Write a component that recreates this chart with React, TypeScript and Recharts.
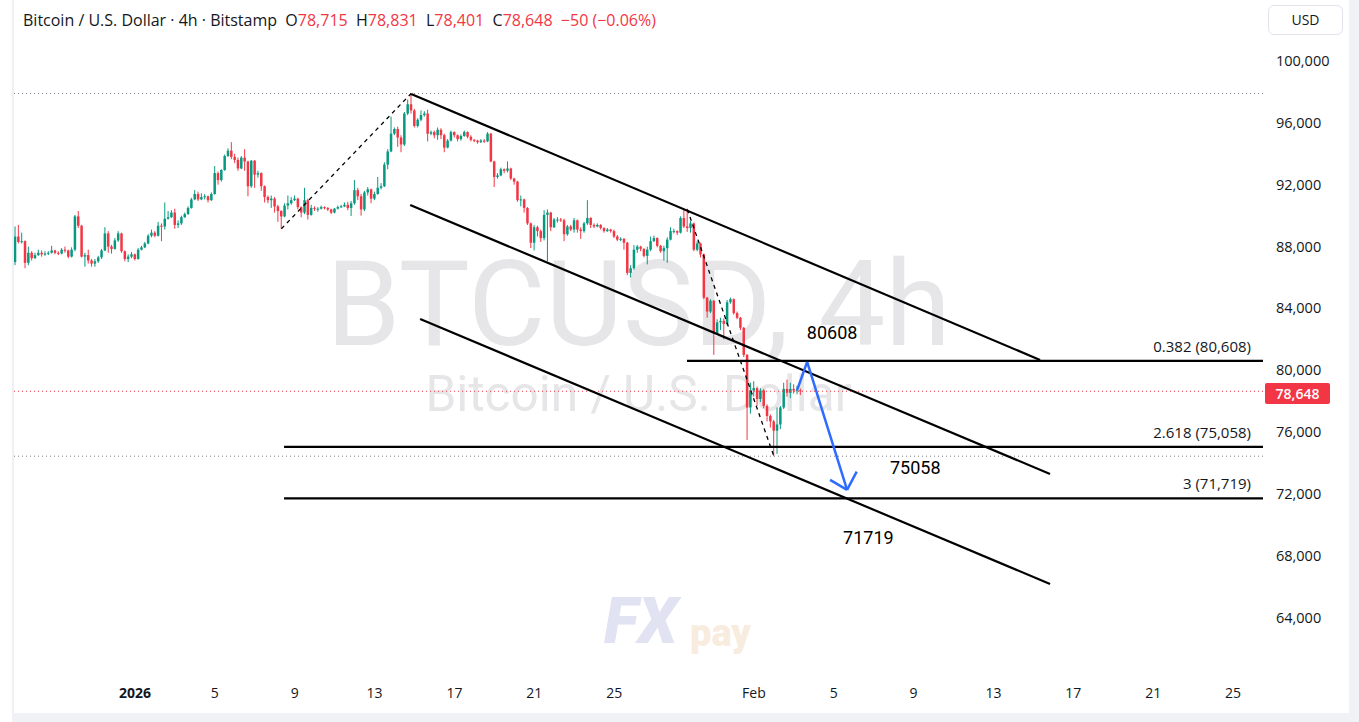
import { ComposedChart, Bar, XAxis, YAxis, ReferenceLine, ReferenceDot } from 'recharts'

// 4h candles starting Dec 26 00:00, prices in thousands of USD
const FIRST_OPEN = 87.0

const closes = [
  88.65, 88.3, 88.35, 86.95, 87.6, 87.25, 87.45, 87.6, 87.5, 87.55,
  87.6, 87.75, 87.6, 87.55, 87.8, 87.75, 87.35, 87.8, 89.95, 89.35,
  87.35, 87.45, 87.1, 86.9, 87.05, 87.3, 87.75, 88.85, 88.0, 87.85,
  88.4, 88.85, 87.7, 87.2, 87.35, 87.5, 87.2, 87.8, 87.95, 88.2,
  88.7, 88.9, 88.7, 89.35, 89.3, 89.8, 89.9, 90.2, 89.4, 89.5,
  89.9, 90.1, 90.5, 91.05, 91.4, 91.05, 91.2, 91.25, 91.0, 91.4,
  92.75, 92.3, 92.95, 93.85, 94.2, 93.8, 93.6, 93.05, 93.75, 93.5,
  91.9, 93.55, 92.65, 92.75, 91.9, 91.2, 91.0, 91.1, 90.6, 90.3,
  89.95, 90.65, 90.8, 91.0, 91.1, 90.55, 90.2, 91.0, 90.05, 90.5,
  90.45, 90.45, 90.55, 90.5, 90.4, 90.2, 90.45, 90.55, 90.6, 90.7,
  90.5, 90.8, 91.65, 91.25, 90.4, 91.5, 91.7, 91.1, 91.4, 91.8,
  91.9, 93.3, 94.15, 95.3, 95.6, 95.05, 94.6, 96.6, 97.2, 96.8,
  95.8, 96.2, 96.5, 96.6, 95.3, 95.4, 95.2, 95.55, 95.2, 94.4,
  94.85, 95.4, 95.2, 94.95, 95.15, 95.4, 95.1, 94.9, 94.85, 94.75,
  94.85, 94.8, 95.3, 93.5, 92.5, 92.6, 93.0, 92.9, 93.05, 92.4,
  92.2, 91.0, 91.05, 90.5, 89.5, 88.25, 89.25, 89.0, 88.55, 90.05,
  90.2, 89.25, 89.75, 89.75, 89.7, 88.8, 89.3, 89.1, 89.7, 89.1,
  89.0, 89.5, 89.85, 89.4, 89.3, 89.4, 89.2, 89.0, 89.1, 89.0,
  88.65, 88.45, 88.5, 88.25, 86.3, 86.6, 87.8, 88.0, 87.85, 87.4,
  87.8, 88.35, 88.55, 88.05, 87.7, 87.9, 88.45, 89.0, 89.0, 88.9,
  89.85, 89.3, 89.2, 89.5, 87.8, 88.2, 87.5, 84.7, 83.8, 84.5,
  82.4, 83.1, 83.2, 83.0, 84.4, 84.6, 83.7, 83.4, 82.75, 81.0,
  77.6, 78.7, 78.85, 78.15, 78.7, 77.7, 77.05, 76.7, 76.1, 76.5,
  77.6, 78.8, 78.55, 78.8, 78.7, 78.715, 78.648,
]

const highs = [
  89.3, 89.4, 88.9, 88.4, 88.0, 87.7, 87.6, 87.8, 87.75, 87.7,
  87.7, 88.05, 87.8, 87.7, 87.9, 88.0, 87.8, 87.95, 90.05, 90.3,
  89.4, 87.6, 87.8, 87.2, 87.2, 87.4, 87.85, 89.25, 89.0, 88.1,
  88.55, 89.0, 88.9, 87.75, 87.5, 87.65, 87.55, 87.9, 88.05, 88.3,
  88.8, 89.1, 89.0, 89.6, 89.5, 90.85, 90.3, 90.35, 90.45, 89.7,
  90.0, 90.2, 90.6, 91.15, 91.65, 91.55, 91.45, 91.4, 91.3, 91.5,
  93.2, 92.85, 93.0, 93.95, 94.35, 94.75, 94.0, 93.75, 93.85, 94.3,
  93.55, 93.6, 93.6, 92.9, 92.8, 91.95, 91.3, 91.3, 91.2, 90.7,
  90.35, 90.8, 91.3, 91.2, 91.3, 91.15, 90.6, 91.8, 91.1, 90.7,
  90.6, 90.55, 90.65, 90.6, 90.55, 90.45, 90.5, 90.65, 90.7, 90.85,
  90.9, 90.95, 92.3, 91.8, 91.4, 91.6, 91.85, 91.75, 91.55, 92.5,
  92.1, 93.45, 94.3, 96.4, 95.7, 95.75, 95.2, 96.7, 97.5, 97.9,
  96.9, 96.3, 96.8, 96.75, 96.85, 95.5, 95.5, 95.7, 95.65, 95.3,
  94.95, 95.5, 95.45, 95.25, 95.25, 95.5, 95.45, 95.2, 94.95, 94.9,
  94.95, 94.95, 95.4, 95.35, 93.55, 92.75, 93.1, 93.05, 93.5, 93.1,
  92.45, 92.25, 91.3, 91.1, 90.55, 89.55, 89.4, 89.35, 89.1, 90.35,
  90.4, 90.25, 89.85, 89.9, 89.85, 89.8, 89.4, 89.4, 89.85, 89.75,
  89.25, 89.6, 91.0, 89.9, 89.5, 89.5, 89.45, 89.25, 89.2, 89.15,
  89.1, 88.75, 88.6, 88.55, 88.3, 86.8, 88.1, 88.1, 88.05, 87.9,
  88.0, 88.65, 88.7, 88.6, 88.1, 88.05, 88.6, 89.25, 89.15, 89.05,
  89.95, 90.4, 90.45, 89.65, 89.55, 88.35, 88.25, 87.55, 84.75, 84.6,
  84.55, 83.3, 83.4, 83.35, 84.55, 84.7, 84.65, 83.8, 83.45, 82.8,
  81.05, 79.2, 79.3, 78.95, 78.85, 78.8, 77.8, 77.15, 76.8, 77.6,
  77.7, 79.2, 79.4, 79.2, 79.1, 79.0, 78.831,
]

const lows = [
  86.8, 88.2, 88.2, 86.6, 86.8, 87.1, 87.2, 87.4, 87.35, 87.4,
  87.45, 87.55, 87.5, 87.45, 87.5, 87.6, 87.25, 87.3, 87.7, 89.2,
  87.3, 86.7, 86.9, 86.7, 86.7, 86.95, 87.2, 87.7, 87.6, 87.55,
  87.8, 88.3, 87.6, 87.05, 87.0, 87.25, 87.1, 87.15, 87.75, 87.9,
  88.15, 88.6, 88.6, 88.65, 88.35, 89.1, 89.75, 89.85, 89.15, 89.2,
  89.4, 89.85, 90.05, 90.45, 91.0, 90.95, 91.0, 91.05, 90.85, 90.95,
  91.35, 92.0, 92.2, 92.9, 93.8, 93.65, 93.4, 92.9, 93.0, 92.9,
  91.25, 91.8, 91.8, 92.45, 91.6, 90.85, 90.8, 90.5, 90.2, 89.6,
  89.15, 89.9, 90.4, 90.7, 90.95, 90.4, 89.9, 90.1, 89.75, 90.0,
  90.3, 90.25, 90.4, 90.4, 90.3, 90.1, 90.15, 90.4, 90.5, 90.55,
  90.35, 89.98, 90.7, 91.0, 90.0, 90.3, 91.3, 90.8, 91.0, 91.35,
  91.7, 91.85, 93.0, 94.1, 95.2, 94.45, 94.1, 94.5, 96.5, 96.6,
  95.7, 95.7, 96.1, 96.4, 94.8, 95.2, 95.0, 94.9, 94.95, 94.1,
  94.35, 94.8, 95.05, 94.8, 94.85, 95.1, 95.0, 94.8, 94.75, 94.65,
  94.7, 94.7, 94.75, 93.45, 91.85, 92.4, 92.55, 92.75, 92.8, 92.3,
  92.0, 90.9, 90.6, 90.2, 89.4, 87.9, 87.75, 88.65, 88.3, 88.4,
  87.05, 89.0, 89.2, 89.55, 89.6, 88.35, 88.7, 89.0, 88.9, 88.9,
  88.5, 88.9, 89.4, 89.2, 89.2, 89.25, 89.1, 88.9, 88.95, 88.9,
  88.55, 88.35, 88.35, 87.8, 86.15, 86.0, 86.5, 87.6, 87.7, 87.3,
  86.85, 87.7, 88.3, 87.95, 87.6, 87.1, 86.95, 88.4, 88.85, 88.75,
  88.85, 89.2, 88.95, 88.9, 87.7, 87.7, 87.3, 84.6, 83.4, 83.7,
  81.0, 82.3, 82.6, 82.0, 82.9, 84.3, 83.6, 83.3, 82.6, 80.85,
  75.5, 77.2, 78.3, 77.7, 77.95, 77.55, 76.7, 76.3, 74.45, 74.6,
  76.2, 77.5, 78.3, 78.2, 78.5, 78.45, 78.401,
]

// tick positions in candle index (6 candles per day, Jan 1 = 36)
const dateTicks = [36, 60, 84, 108, 132, 156, 180, 222, 246, 270, 294, 318, 342, 366]
const dateLabels = ['2026', '5', '9', '13', '17', '21', '25', 'Feb', '5', '9', '13', '17', '21', '25']
const priceTicks = [64000, 68000, 72000, 76000, 80000, 84000, 88000, 92000, 96000, 100000]

const FONT = '"Open Sans", Roboto, sans-serif'
const MARK_FONT = 'Roboto, "Noto Sans", sans-serif'
const UP = '#089981'
const DOWN = '#f23645'
const INK = '#131722'

const candles = closes.map((c, i) => {
  const o = i === 0 ? FIRST_OPEN : closes[i - 1]
  const h = Math.max(highs[i], o, c)
  const l = Math.min(lows[i], o, c)
  return { i, o: o * 1000, c: c * 1000, h: h * 1000, l: l * 1000, range: [l * 1000, h * 1000] }
})

const Candle = (props: any) => {
  const { x, y, width, height, payload } = props
  const cx = x + width / 2
  const top = Math.min(y, y + height)
  const span = Math.abs(height)
  const k = span / (payload.h - payload.l || 1)
  const color = payload.c >= payload.o ? UP : DOWN
  const bodyTop = top + (payload.h - Math.max(payload.o, payload.c)) * k
  const bodyH = Math.max(1, Math.abs(payload.o - payload.c) * k)
  return (
    <g>
      <line x1={cx} x2={cx} y1={top} y2={top + span} stroke={color} strokeWidth={1} />
      <rect x={cx - 1.25} y={bodyTop} width={2.5} height={bodyH} fill={color} />
    </g>
  )
}

const DateTick = ({ x, payload }: any) => {
  const label = dateLabels[dateTicks.indexOf(payload.value)]
  return (
    <text x={x} y={698} textAnchor='middle' fontSize={14} fill={INK} fontFamily={FONT} fontWeight={label === '2026' ? 700 : 400}>
      {label}
    </text>
  )
}

const PriceTick = ({ y, payload }: any) => (
  <text x={1276} y={y + 5} fontSize={14.5} fill={INK} fontFamily={FONT}>
    {payload.value.toLocaleString('en-US')}
  </text>
)

const FibLabel = ({ viewBox, text }: any) => (
  <text x={viewBox.x + viewBox.width - 12} y={viewBox.y - 9} textAnchor='end' fontSize={15} fill={INK} fontFamily={FONT}>
    {text}
  </text>
)

const NumLabel = ({ viewBox, text }: any) => (
  <text x={viewBox.x + viewBox.width / 2} y={viewBox.y + viewBox.height / 2 + 6} textAnchor='middle' fontSize={18} fill='#000' fontFamily={MARK_FONT}>
    {text}
  </text>
)

const line = { stroke: '#000', strokeWidth: 2.2 }
const dashed = { stroke: '#000', strokeWidth: 1.3, strokeDasharray: '4 4' }
const arrow = { stroke: '#2f6bff', strokeWidth: 2.5 }

export default function App() {
  return (
    <div style={{ position: 'absolute', left: 0, top: 0, width: 1359, height: 722, background: '#fff', overflow: 'hidden', fontFamily: FONT }}>
      {/* watermark */}
      <div style={{ position: 'absolute', left: 14, width: 1249, top: 257, height: 96, textAlign: 'center', fontSize: 119, color: '#e6e6e8', lineHeight: '96px', fontFamily: MARK_FONT }}>
        BTCUSD, 4h
      </div>
      <div style={{ position: 'absolute', left: 14, width: 1249, top: 372, height: 44, textAlign: 'center', fontSize: 49.5, color: '#e6e6e8', lineHeight: '44px', fontFamily: MARK_FONT }}>
        Bitcoin / U.S. Dollar
      </div>
      <div style={{ position: 'absolute', left: 604, top: 590, fontSize: 64, fontWeight: 900, fontStyle: 'italic', color: '#e1e2f2', lineHeight: 1, fontFamily: MARK_FONT }}>
        FX
      </div>
      <div style={{ position: 'absolute', left: 690, top: 614, fontSize: 38, fontWeight: 900, color: '#f8ecdf', lineHeight: 1, fontFamily: MARK_FONT }}>
        pay
      </div>

      <div style={{ position: 'absolute', left: 0, top: 0 }}>
        <ComposedChart width={1359} height={722} data={candles} margin={{ top: 0, right: 0, bottom: 9, left: 14 }}>
          <XAxis
            dataKey='i'
            type='number'
            domain={[-0.36, 375]}
            allowDataOverflow
            ticks={dateTicks}
            interval={0}
            tick={<DateTick />}
            axisLine={false}
            tickLine={false}
            height={41}
          />
          <YAxis
            orientation='right'
            type='number'
            domain={[60500, 103940]}
            allowDataOverflow
            ticks={priceTicks}
            interval={0}
            tick={<PriceTick />}
            axisLine={false}
            tickLine={false}
            width={96}
          />

          <ReferenceLine y={97900} stroke='#787b86' strokeDasharray='1 3' />
          <ReferenceLine y={74450} stroke='#787b86' strokeDasharray='1 3' />
          <ReferenceLine y={78648} stroke={DOWN} strokeDasharray='1 3' />

          <Bar dataKey='range' barSize={3} shape={<Candle />} isAnimationActive={false} />

          {/* dashed swing legs */}
          <ReferenceLine segment={[{ x: 80, y: 89150 }, { x: 119, y: 97900 }]} {...dashed} />
          <ReferenceLine segment={[{ x: 202, y: 90400 }, { x: 228, y: 74450 }]} {...dashed} />

          {/* descending channel */}
          <ReferenceLine segment={[{ x: 119, y: 97870 }, { x: 308, y: 80670 }]} {...line} />
          <ReferenceLine segment={[{ x: 118.7, y: 90690 }, { x: 311, y: 73300 }]} {...line} />
          <ReferenceLine segment={[{ x: 121.7, y: 83320 }, { x: 311, y: 66190 }]} {...line} />

          {/* fib levels */}
          <ReferenceLine segment={[{ x: 201.9, y: 80608 }, { x: 375, y: 80608 }]} {...line} label={<FibLabel text='0.382 (80,608)' />} />
          <ReferenceLine segment={[{ x: 80.8, y: 75058 }, { x: 375, y: 75058 }]} {...line} label={<FibLabel text='2.618 (75,058)' />} />
          <ReferenceLine segment={[{ x: 80.8, y: 71719 }, { x: 375, y: 71719 }]} {...line} label={<FibLabel text='3 (71,719)' />} />

          {/* projected path */}
          <ReferenceLine segment={[{ x: 235, y: 78730 }, { x: 238, y: 80550 }]} {...arrow} />
          <ReferenceLine segment={[{ x: 238, y: 80550 }, { x: 250, y: 72270 }]} {...arrow} />
          <ReferenceLine segment={[{ x: 244.9, y: 72920 }, { x: 250, y: 72270 }]} {...arrow} />
          <ReferenceLine segment={[{ x: 252.9, y: 73450 }, { x: 250, y: 72270 }]} {...arrow} />

          <ReferenceDot x={245.5} y={82420} r={1} fill='none' stroke='none' label={<NumLabel text='80608' />} />
          <ReferenceDot x={270.5} y={73690} r={1} fill='none' stroke='none' label={<NumLabel text='75058' />} />
          <ReferenceDot x={256.4} y={69170} r={1} fill='none' stroke='none' label={<NumLabel text='71719' />} />
        </ComposedChart>
      </div>

      {/* legend line */}
      <div style={{ position: 'absolute', left: 23, top: 9, fontSize: 16, color: INK, whiteSpace: 'pre', lineHeight: '22px' }}>
        {'Bitcoin / U.S. Dollar · 4h · Bitstamp  O'}
        <span style={{ color: DOWN }}>78,715</span>
        {'  H'}
        <span style={{ color: DOWN }}>78,831</span>
        {'  L'}
        <span style={{ color: DOWN }}>78,401</span>
        {'  C'}
        <span style={{ color: DOWN }}>78,648</span>
        <span style={{ color: DOWN }}>{'  −50 (−0.06%)'}</span>
      </div>

      <div style={{ position: 'absolute', left: 1268, top: 5, width: 75, height: 30, boxSizing: 'border-box', border: '1px solid #e0e3eb', borderRadius: 6, fontSize: 14, color: INK, textAlign: 'center', lineHeight: '28px' }}>
        USD
      </div>

      <div style={{ position: 'absolute', left: 1265, top: 383, width: 65, height: 21, background: DOWN, color: '#fff', fontSize: 14, fontWeight: 600, lineHeight: '21px', textAlign: 'center', borderRadius: 2 }}>
        78,648
      </div>

      {/* frame */}
      <div style={{ position: 'absolute', left: 12, top: 0, width: 2, height: 722, background: '#eef0f4' }} />
      <div style={{ position: 'absolute', left: 12, top: 713, width: 1347, height: 9, background: '#f0f2f6' }} />
      <div style={{ position: 'absolute', left: 1349, top: 0, width: 10, height: 722, background: '#f0f2f6' }} />
    </div>
  )
}
